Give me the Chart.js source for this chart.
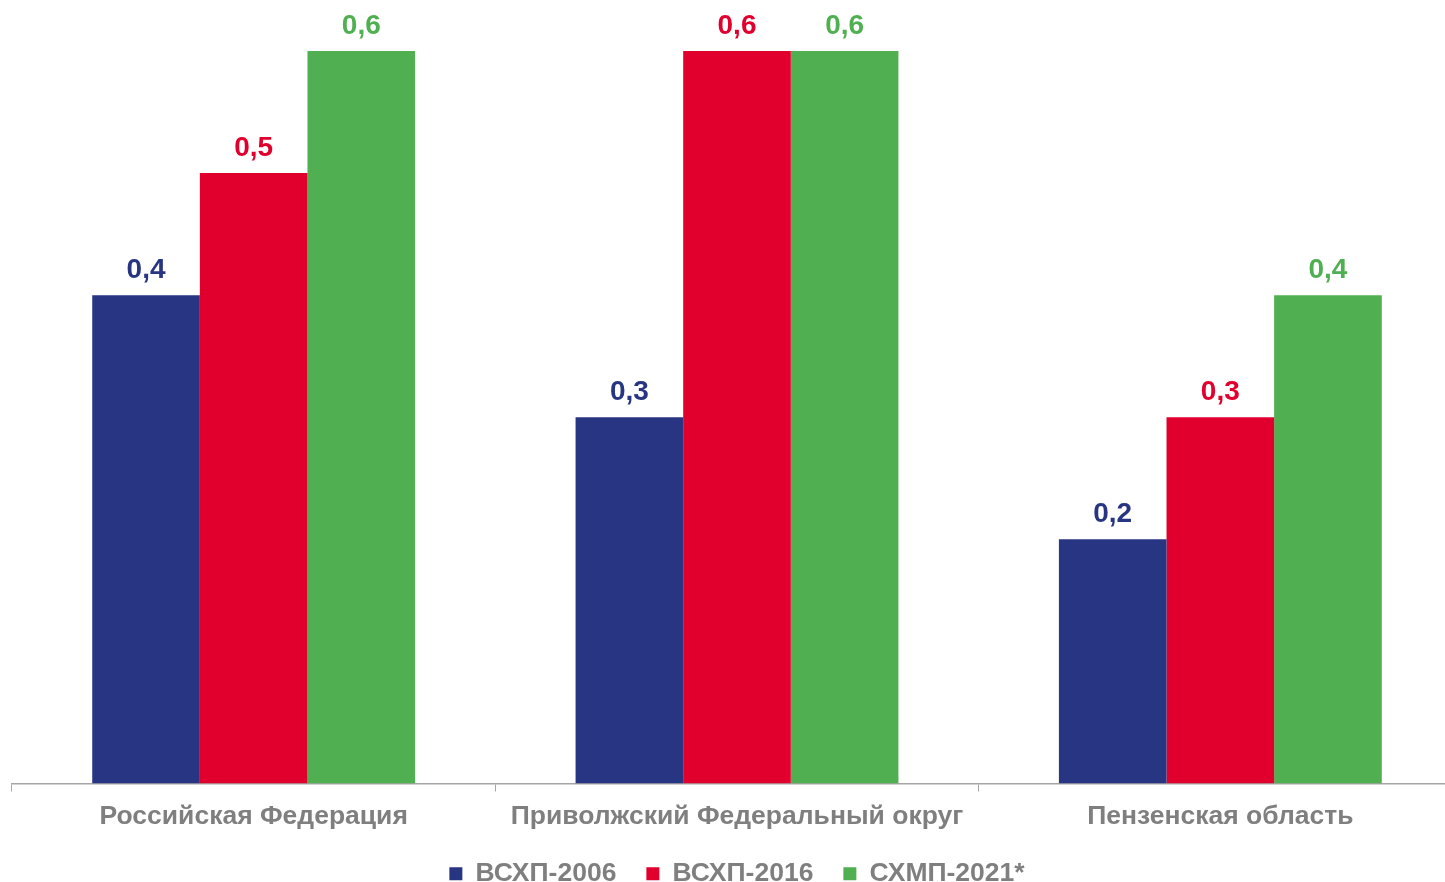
<!DOCTYPE html>
<html>
<head>
<meta charset="utf-8">
<script src="https://cdn.jsdelivr.net/npm/chart.js@4/dist/chart.umd.min.js"></script>
<style>
html,body{margin:0;padding:0;background:#fff;overflow:hidden;}
#clip{width:1445px;height:882px;overflow:hidden;position:relative;}
#wrap{width:1462px;height:897px;position:absolute;left:0;top:0;}
</style>
</head>
<body>
<div id="clip"><div id="wrap"><canvas id="c"></canvas></div></div>
<script>
const categories = ["Российская Федерация", "Приволжский Федеральный округ", "Пензенская область"];
const seriesNames = ["ВСХП-2006", "ВСХП-2016", "СХМП-2021*"];
const vals2006 = [0.4, 0.3, 0.2];
const vals2016 = [0.5, 0.6, 0.3];
const vals2021 = [0.6, 0.6, 0.4];
const colors = ["#283583", "#E1002D", "#50AF50"];

const FONT = "'Liberation Sans', Arial, sans-serif";

const valueLabels = {
  id: 'valueLabels',
  afterDatasetsDraw(chart) {
    const ctx = chart.ctx;
    ctx.save();
    ctx.font = "bold 28px " + FONT;
    ctx.textAlign = 'center';
    ctx.textBaseline = 'alphabetic';
    chart.data.datasets.forEach((ds, i) => {
      const meta = chart.getDatasetMeta(i);
      meta.data.forEach((bar, j) => {
        ctx.fillStyle = ds.backgroundColor;
        ctx.fillText(String(ds.data[j]).replace('.', ','), bar.x, bar.y - 17);
      });
    });
    ctx.restore();
  }
};

new Chart(document.getElementById('c'), {
  type: 'bar',
  data: {
    labels: categories,
    datasets: [
      {label: seriesNames[0], data: vals2006, backgroundColor: colors[0]},
      {label: seriesNames[1], data: vals2016, backgroundColor: colors[1]},
      {label: seriesNames[2], data: vals2021, backgroundColor: colors[2]}
    ]
  },
  options: {
    responsive: true,
    maintainAspectRatio: false,
    animation: false,
    devicePixelRatio: 1,
    layout: {padding: {left: 12, right: 0, top: 51, bottom: 0}},
    datasets: {bar: {categoryPercentage: 0.668, barPercentage: 1.0}},
    scales: {
      y: {display: false, min: 0, max: 0.6},
      x: {
        grid: {drawOnChartArea: false, drawTicks: true, tickLength: 8, color: '#a6a6a6', offset: true},
        border: {display: true, color: '#a6a6a6', width: 1.5},
        ticks: {color: '#7f7f7f', font: {family: FONT, size: 26.5, weight: 'bold'}, padding: 9, maxRotation: 0},
        afterFit: (scale) => { scale.height = 47; }
      }
    },
    plugins: {
      legend: {
        position: 'bottom',
        labels: {
          color: '#7f7f7f',
          font: {family: FONT, size: 26.5, weight: 'bold'},
          boxWidth: 13, boxHeight: 13,
          padding: 30
        }
      },
      tooltip: {enabled: false}
    }
  },
  plugins: [valueLabels]
});
</script>
</body>
</html>
